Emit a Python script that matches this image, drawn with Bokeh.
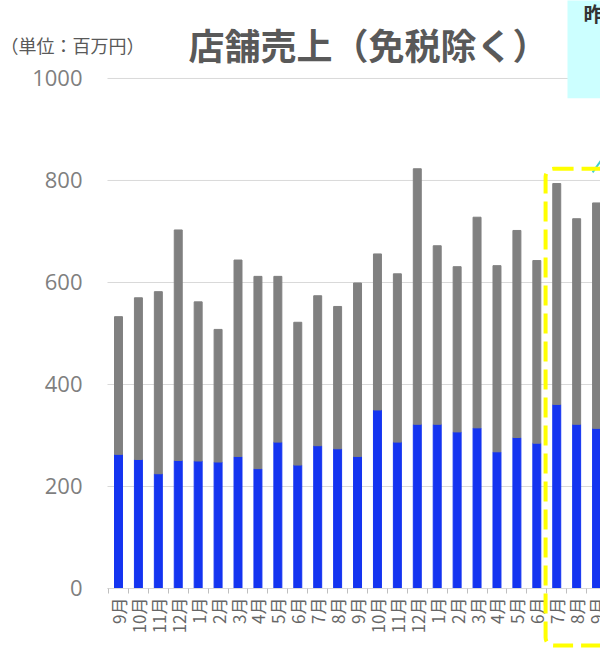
import math
from bokeh.plotting import figure
from bokeh.models import ColumnDataSource, FixedTicker, Label, BoxAnnotation
from bokeh.core.properties import value
from bokeh.embed import file_html
from bokeh.resources import INLINE

# Monthly store sales (excluding duty-free), million yen
months = ["9月", "10月", "11月", "12月", "1月", "2月", "3月", "4月", "5月", "6月", "7月", "8月",
          "9月", "10月", "11月", "12月", "1月", "2月", "3月", "4月", "5月", "6月", "7月", "8月", "9月"]
lower = [263, 253, 225, 251, 250, 248, 259, 235, 287, 242, 280, 274,
         259, 350, 287, 322, 322, 307, 315, 268, 296, 285, 361, 322, 314]
upper = [270, 317, 357, 452, 312, 260, 385, 377, 325, 280, 294, 279,
         340, 306, 330, 501, 350, 324, 413, 365, 406, 358, 433, 403, 442]
y_ticks = [0, 200, 400, 600, 800, 1000]

BLUE = "#1434F0"
GRAY = "#808080"
GRID = "#d9d9d9"
TEXT = "#595959"
JP = "Noto Sans CJK JP"

# plotting area in data units; the canvas extends around it for headings and labels
X0, X1 = -0.552, 24.2
xs = list(range(len(months)))
src = ColumnDataSource(dict(x=xs, lower=lower, upper=upper, base=[0] * len(xs), month=months))

p = figure(width=600, height=652, x_range=(-5.923, 24.197), y_range=(-125.5, 1152.9),
           output_backend="svg", toolbar_location=None,
           min_border_left=0, min_border_right=0, min_border_top=0, min_border_bottom=0)
p.outline_line_color = None
p.background_fill_color = "white"
p.border_fill_color = "white"
p.xgrid.visible = False
p.ygrid.visible = False

# horizontal gridlines across the plotting area
p.segment(x0=[X0] * len(y_ticks), x1=[X1] * len(y_ticks), y0=y_ticks, y1=y_ticks,
          line_color=GRID, line_width=1)

p.vbar_stack(["lower", "upper"], x="x", width=0.4, color=[BLUE, GRAY], source=src)

# y axis pinned to the left edge of the plotting area
p.yaxis.fixed_location = X0
p.yaxis.bounds = (0, 1000)
p.yaxis.ticker = FixedTicker(ticks=y_ticks)
p.yaxis.axis_line_color = None
p.yaxis.major_tick_line_color = None
p.yaxis.minor_tick_line_color = None
p.yaxis.major_tick_out = 0
p.yaxis.major_label_standoff = 25
p.yaxis.major_label_text_font = "Open Sans"
p.yaxis.major_label_text_font_size = "22px"
p.yaxis.major_label_text_color = "#7f7f7f"

# x axis at zero: small ticks between bars
p.xaxis.fixed_location = 0
p.xaxis.bounds = (X0, X1)
p.xaxis.ticker = FixedTicker(ticks=xs, minor_ticks=[i - 0.5 for i in range(len(months) + 1)])
p.xaxis.major_label_overrides = {i: "" for i in xs}
p.xaxis.major_tick_line_color = None
p.xaxis.major_tick_out = 0
p.xaxis.minor_tick_in = 0
p.xaxis.minor_tick_out = 5
p.xaxis.minor_tick_line_color = "#bfbfbf"
p.xaxis.axis_line_color = GRID

# month labels, turned to read upwards and ending just under the axis
p.text(x="x", y="base", text="month", source=src, angle=math.pi / 2,
       text_align="right", text_baseline="middle", y_offset=9,
       text_font=value(JP), text_font_size="17px", text_color="#666666")

# highlight around the latest months, with the pointer from the note box
p.add_layout(BoxAnnotation(left=21.44, right=26, top=823, bottom=-112,
                           fill_color=None, line_color="#FFFF00", line_alpha=1.0,
                           line_width=4, line_dash="20 8", border_radius=8))
p.segment(x0=[23.8], y0=[816], x1=[24.3], y1=[843], line_color="#40D0D0", line_width=2)

# note box in the top right corner
p.add_layout(BoxAnnotation(left=22.54, right=26, top=1160, bottom=961,
                           fill_color="#CCFFFF", fill_alpha=1.0, line_color=None))
p.add_layout(Label(x=23.34, y=1156, text="昨年", text_baseline="top", text_align="left",
                   text_font=JP, text_font_size="20px", text_font_style="bold",
                   text_color="#333333"))

# headings
p.add_layout(Label(x=12.55, y=1068, text="店舗売上（免税除く）", text_align="center",
                   text_baseline="middle", text_font=JP, text_font_size="36px",
                   text_font_style="bold", text_color=TEXT))
p.add_layout(Label(x=-5.92, y=1066, text="（単位：百万円）", text_align="left",
                   text_baseline="middle", text_font=JP, text_font_size="18px",
                   text_color=TEXT))

open("out.html", "w").write(file_html(p, INLINE))
